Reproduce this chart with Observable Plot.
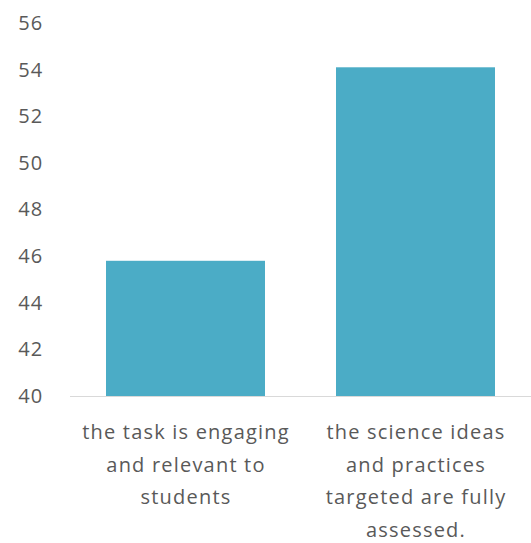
<!DOCTYPE html>
<html>
<head>
<meta charset="utf-8">
<script src="https://cdn.jsdelivr.net/npm/d3@7"></script>
<script src="https://cdn.jsdelivr.net/npm/@observablehq/plot@0.6"></script>
<style>
  html, body { margin: 0; padding: 0; background: #ffffff; }
  #chart { width: 531px; height: 543px; }
</style>
</head>
<body>
<div id="chart"></div>
<script>
// Category labels (line breaks as shown under each bar)
const categories = [
  "the task is engaging\nand relevant to\nstudents",
  "the science ideas\nand practices\ntargeted are fully\nassessed."
];
// Bar values
const values = [45.8, 54.1];
// Y-axis ticks
const yTicks = [40, 42, 44, 46, 48, 50, 52, 54, 56];

const data = categories.map((c, i) => ({category: c, value: values[i]}));

const textColor = "#595959";
const fontFamily = "'Open Sans', 'Noto Sans', sans-serif";

const chart = Plot.plot({
  width: 531,
  height: 543,
  marginTop: 23,
  marginBottom: 147,
  marginLeft: 70,
  marginRight: 0,
  style: {fontFamily, fontSize: "20px", letterSpacing: "1.2px", color: textColor, background: "#ffffff"},
  x: {domain: categories, paddingInner: 0.31, paddingOuter: 0.155, label: null},
  y: {domain: [40, 56], ticks: yTicks, label: null},
  marks: [
    Plot.barY(data, {x: "category", y1: 40, y2: "value", fill: "#4bacc6"}),
    Plot.ruleY([40], {stroke: "#d9d9d9", strokeWidth: 1.2}),
    Plot.axisY({ticks: yTicks, tickSize: 0, tickPadding: 27, fontSize: 20, fill: textColor, label: null}),
    Plot.axisX({tickSize: 0, tickPadding: 19, fontSize: 20, lineHeight: 1.64, fill: textColor, label: null})
  ]
});

document.getElementById("chart").appendChild(chart);
</script>
</body>
</html>
